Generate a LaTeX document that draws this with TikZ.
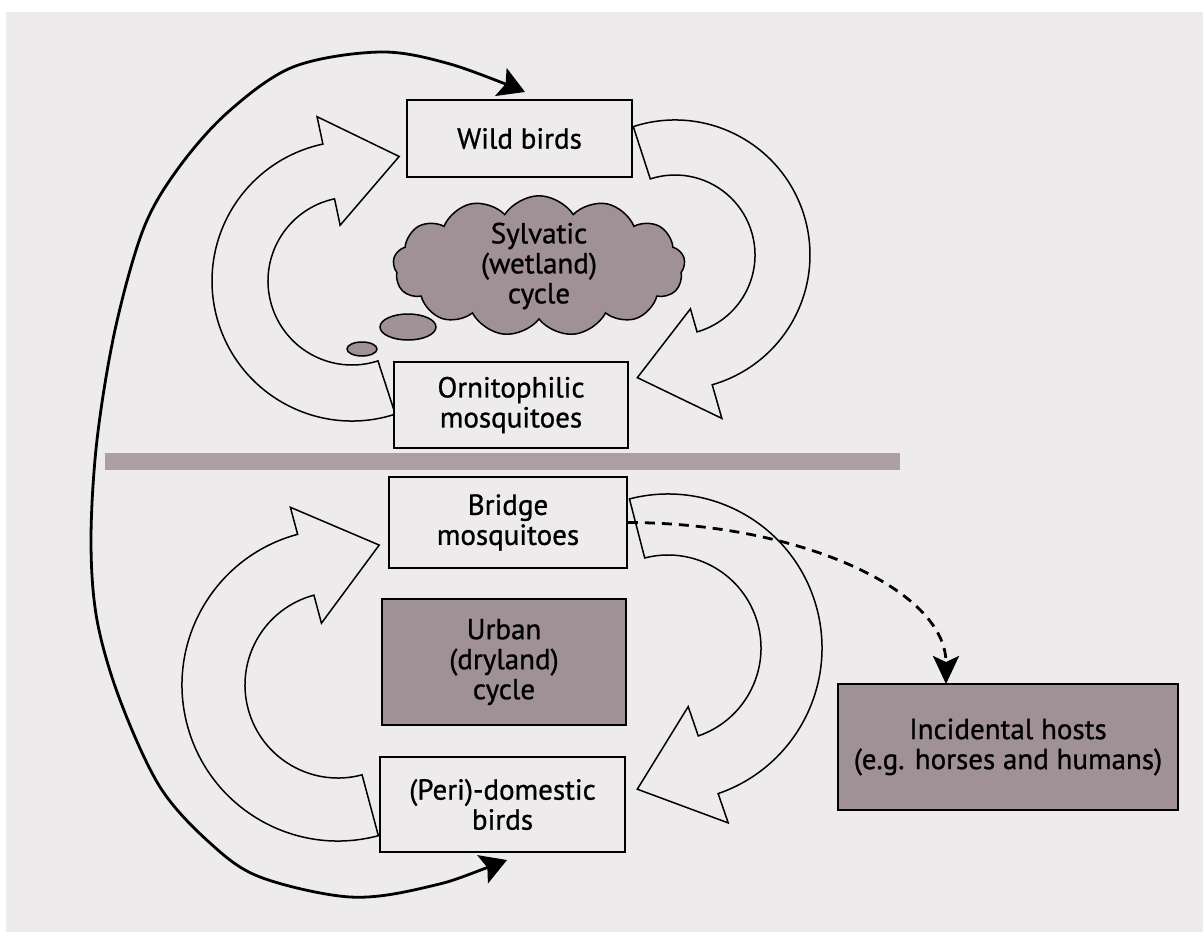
\documentclass[tikz,border=0pt]{standalone}
\usepackage{fontspec}
\setmainfont{PT Sans}[FakeBold=0.9]
\usetikzlibrary{calc,shapes.symbols,shapes.geometric,arrows.meta}
\definecolor{paper}{RGB}{237,235,235}
\definecolor{mauve}{RGB}{160,145,150}
\definecolor{barcol}{RGB}{172,158,163}
\newcommand\boxfont{\fontsize{29}{30}\selectfont}
\tikzset{
  box/.style={draw=black, line width=1.8pt, fill=paper, align=center, inner sep=0pt, font=\boxfont},
  shadedbox/.style={box, fill=mauve},
  bandarrow/.style={draw=black, line width=1.5pt, fill=paper, line join=miter},
  bigcurve/.style={line width=2.8pt, {Stealth[length=26pt,width=30pt,inset=5pt]}-{Stealth[length=26pt,width=30pt,inset=5pt]}},
  hostlink/.style={line width=2.8pt, dash pattern=on 10pt off 7pt, -{Stealth[length=28pt,width=26pt,inset=6pt]}},
  bubble/.style={ellipse, draw=black, line width=1.5pt, fill=mauve, inner sep=0pt},
}
% #1 centre, #2 outer radius, #3 inner radius, #4 tail angle, #5 head-base angle,
% #6 head length, #7 outer barb radius, #8 inner barb radius
\newcommand\cyclearrow[8]{%
  \draw[bandarrow] ($(#1)+(#4:#2)$) arc[start angle=#4, end angle=#5, radius=#2pt]
    -- ($(#1)+(#5:#7)$)
    -- ($(#1)+(#5:{(#2+#3)/2})+({#5-90}:#6)$)
    -- ($(#1)+(#5:#8)$)
    -- ($(#1)+(#5:#3)$)
    arc[start angle=#5, end angle=#4, radius=#3pt] -- cycle;}
\begin{document}
\begin{tikzpicture}[x=1pt,y=1pt]
\useasboundingbox (0,0) rectangle (1203,-939);
\fill[white] (0,0) rectangle (1203,-939);
\fill[paper] (6,-12) rectangle (1203,-932);

% separator bar
\fill[barcol] (105,-453) rectangle (900,-470);

% cycle arrows
\coordinate (cUL) at (352,-281);
\coordinate (cRU) at (675,-255);
\coordinate (cLL) at (338,-685);
\coordinate (cRL) at (668,-648);
\cyclearrow{cUL}{140}{84}{-72}{-258}{72}{168}{57}
\cyclearrow{cRU}{135}{80}{108}{-74}{70}{170}{56}
\cyclearrow{cLL}{156}{93}{-75}{-255}{76}{184}{64}
\cyclearrow{cRL}{154}{93}{104.5}{-71}{75}{185}{62}

% boxes
\node[box, minimum width=225pt, minimum height=77pt] (wild) at (519.5,-138.5) {Wild birds};
\node[box, minimum width=234pt, minimum height=86pt] (orni) at (511,-405) {Ornitophilic\\mosquitoes};
\node[box, minimum width=238pt, minimum height=91pt] (bridge) at (508,-522.5) {Bridge\\mosquitoes};
\node[shadedbox, minimum width=244pt, minimum height=126pt] (urban) at (504,-662) {Urban\\(dryland)\\cycle};
\node[box, minimum width=245pt, minimum height=95pt] (peri) at (502.5,-804.5) {(Peri)-domestic\\birds};
\node[shadedbox, minimum width=340pt, minimum height=126pt] (incid) at (1008,-747) {Incidental hosts\\(e.g. horses and humans)};

% cloud and thought bubbles
\node[cloud, cloud puffs=13, cloud puff arc=115, cloud ignores aspect, draw=black, line width=1.5pt,
      fill=mauve, minimum width=292pt, minimum height=138pt, align=center, font=\boxfont, inner sep=0pt]
      (cloud) at (539,-266) {Sylvatic\\(wetland)\\cycle};
\node[bubble, minimum width=56pt, minimum height=26pt] (bub1) at (408,-327) {};
\node[bubble, minimum width=30pt, minimum height=14pt] (bub2) at (362,-349) {};

% big connector between wild and peri-domestic birds
\coordinate (tipW) at (525,-92);
\coordinate (tipP) at (507,-860);
\draw[bigcurve] plot[smooth, tension=0.55] coordinates {(tipP) (427,-887) (350,-897) (260,-877) (210,-843) (160,-787) (120,-700) (97,-620) (91,-540) (97,-440) (115,-330) (143,-230) (177,-170) (227,-113) (293,-67) (380,-52) (450,-64) (tipW)};

% dashed link to incidental hosts
\coordinate (dashend) at (946,-684);
\draw[hostlink] (bridge.east) .. controls (800,-523) and (946,-590) .. (dashend);
\end{tikzpicture}
\end{document}
